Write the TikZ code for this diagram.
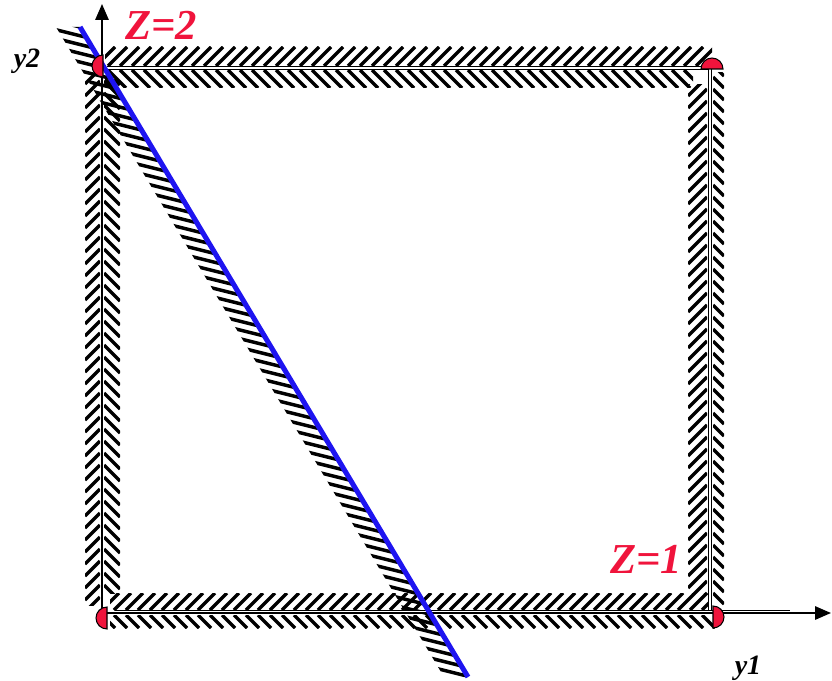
\documentclass[tikz,border=0pt]{standalone}
\usepackage{fontspec}
\setmainfont{Liberation Serif}
\usetikzlibrary{arrows.meta}
\definecolor{zred}{RGB}{240,20,60}
\definecolor{cutblue}{RGB}{30,20,240}

\begin{document}
\begin{tikzpicture}[x=0.75pt,y=-0.75pt,
  hatch/.style={line width=2.6pt, black},
  bound/.style={draw=black, line width=1.1pt, double=white, double distance=1pt},
  axis/.style={line width=1.5pt, -{Triangle[length=12pt,width=10pt]}},
  vertex/.style={fill=zred, draw=black, line width=0.8pt},
  zlabel/.style={text=zred, font=\fontsize{32}{32}\selectfont\bfseries\itshape, inner sep=0pt},
  ylabel/.style={font=\fontsize{21}{21}\selectfont\bfseries\itshape, inner sep=0pt}]
  \useasboundingbox (0,0) rectangle (832,681);

  % top band
  \begin{scope}
    \clip (105,47) rectangle (712,66);
    \foreach \x in {84,96,...,720} \draw[hatch] (\x,66) -- (\x+19,47);
  \end{scope}
  \begin{scope}
    \clip (105,70) rectangle (693,88);
    \foreach \x in {84,96,...,700} \draw[hatch] (\x,70) -- (\x+18,88);
  \end{scope}
  % bottom band
  \begin{scope}
    \clip (110,593) rectangle (710,610);
    \foreach \x in {90,102,...,720} \draw[hatch] (\x,610) -- (\x+17,593);
  \end{scope}
  \begin{scope}
    \clip (110,615) rectangle (717,628);
    \foreach \x in {90,102,...,720} \draw[hatch] (\x,615) -- (\x+13,628);
  \end{scope}
  % left band
  \begin{scope}
    \clip (85,73) rectangle (100,605);
    \foreach \y in {60,72,...,620} \draw[hatch] (85,\y) -- (100,\y-15);
  \end{scope}
  \begin{scope}
    \clip (104,80) rectangle (120,593);
    \foreach \y in {60,72,...,620} \draw[hatch] (104,\y-15) -- (120,\y+1);
  \end{scope}
  % right band
  \begin{scope}
    \clip (688,85) rectangle (707,593);
    \foreach \y in {60,72,...,620} \draw[hatch] (688,\y) -- (707,\y-19);
  \end{scope}
  \begin{scope}
    \clip (713,73) rectangle (724,605);
    \foreach \y in {60,72,...,620} \draw[hatch] (713,\y-19) -- (724,\y-8);
  \end{scope}
  % slanted band
  \begin{scope}
    \clip (80,27) -- (468,677) -- (444,677) -- (56,27) -- cycle;
    \foreach \t in {0,12,...,800}
      \draw[hatch] ({80+0.5126*\t-38.8},{27+0.8587*\t-9.7}) -- ({80+0.5126*\t+38.8},{27+0.8587*\t+9.7});
  \end{scope}

  \coordinate (O) at (102,613);
  \coordinate (y1tip) at (831,613);
  \coordinate (y2tip) at (102,4);
  \coordinate (TR) at (710,68);
  \coordinate (BR) at (710,612);
  \coordinate (cutA) at (80,27);
  \coordinate (cutB) at (468,677);

  \draw[bound] (107,68) -- (712,68);
  \draw[bound] (TR) -- (BR);
  \draw[bound] (115,612) -- (790,612);
  \draw[axis] (O) -- (y1tip);
  \draw[axis] (O) -- (y2tip);
  \draw[cutblue, line width=3.8pt] (cutA) -- (cutB);

  \filldraw[vertex] (103,66) -- ++(0,11) arc[start angle=90, end angle=270, radius=11] -- cycle;
  \filldraw[vertex] (712,69) -- ++(11,0) arc[start angle=0, end angle=-180, radius=11] -- cycle;
  \filldraw[vertex] (713,617) -- ++(0,-11) arc[start angle=-90, end angle=90, radius=11] -- cycle;
  \filldraw[vertex] (107,618) -- ++(0,11) arc[start angle=90, end angle=270, radius=11] -- cycle;

  \node[zlabel] (z2) at (161,25) {Z=2};
  \node[zlabel] (z1) at (646,559) {Z=1};
  \node[ylabel] (y2) at (27,61) {y2};
  \node[ylabel] (y1) at (748,668) {y1};
\end{tikzpicture}
\end{document}
